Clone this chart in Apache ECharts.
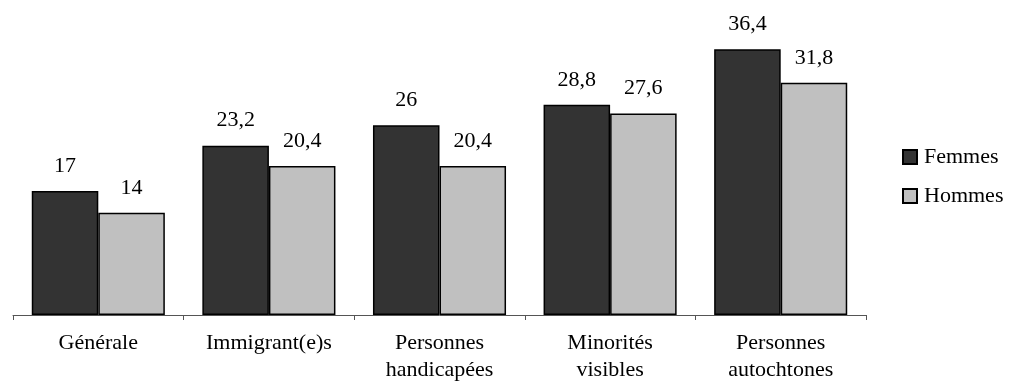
<!DOCTYPE html>
<html>
<head>
<meta charset="utf-8">
<script src="https://cdn.jsdelivr.net/npm/echarts@6/dist/echarts.min.js"></script>
<style>
  html, body { margin: 0; padding: 0; background: #fff; }
  #chart { width: 1013px; height: 384px; }
</style>
</head>
<body>
<div id="chart"></div>
<script>
// Groupes et valeurs (%)
const categories = ['Générale', 'Immigrant(e)s', 'Personnes\nhandicapées', 'Minorités\nvisibles', 'Personnes\nautochtones'];
const femmes = [17, 23.2, 26, 28.8, 36.4];
const hommes = [14, 20.4, 20.4, 27.6, 31.8];

const FONT = '"Liberation Serif", "Times New Roman", serif';
const fmt = p => String(p.value).replace('.', ',');

const chart = echarts.init(document.getElementById('chart'), null, { renderer: 'canvas' });

const barLabel = {
  show: true,
  position: 'top',
  distance: 14,
  formatter: fmt,
  color: '#000',
  fontFamily: FONT,
  fontSize: 22
};

chart.setOption({
  animation: false,
  backgroundColor: '#fff',
  grid: { left: 13, right: 147, top: 23, bottom: 66 },
  legend: {
    orient: 'vertical',
    left: 897,
    top: 141,
    itemWidth: 14,
    itemHeight: 14,
    itemGap: 17,
    icon: 'rect',
    textStyle: { color: '#000', fontFamily: FONT, fontSize: 22, lineHeight: 22, padding: [0, 0, 0, 2] },
    data: ['Femmes', 'Hommes']
  },
  xAxis: {
    type: 'category',
    data: categories,
    axisLine: { lineStyle: { color: '#555', width: 1 } },
    axisTick: { show: true, alignWithLabel: false, length: 5, lineStyle: { color: '#555' } },
    axisLabel: { color: '#000', fontFamily: FONT, fontSize: 22, lineHeight: 27, margin: 15, interval: 0 }
  },
  yAxis: {
    type: 'value',
    min: 0,
    max: 40,
    show: false,
    splitLine: { show: false }
  },
  series: [
    {
      name: 'Femmes',
      type: 'bar',
      data: femmes,
      barGap: '0%',
      barCategoryGap: '22%',
      itemStyle: { color: '#333333', borderColor: '#000', borderWidth: 1.5 },
      label: barLabel
    },
    {
      name: 'Hommes',
      type: 'bar',
      data: hommes,
      itemStyle: { color: '#c0c0c0', borderColor: '#000', borderWidth: 1.5 },
      label: barLabel
    }
  ]
});
</script>
</body>
</html>
